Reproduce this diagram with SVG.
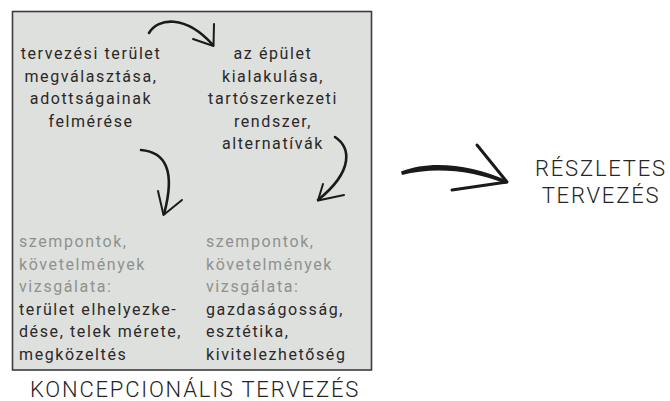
<svg xmlns="http://www.w3.org/2000/svg" width="670" height="401" viewBox="0 0 670 401">
<style>
.t{font-family:Roboto,"Liberation Sans",sans-serif;font-size:16px;letter-spacing:1.6px;fill:#2a2828}
.c{text-anchor:middle}
.g{fill:#8f918f}
.big{font-family:Roboto,"Liberation Sans",sans-serif;font-size:22px;font-weight:300;letter-spacing:1.8px;fill:#262424;text-anchor:middle}
.ar{fill:none;stroke:#1a1a1a;stroke-linecap:round;stroke-linejoin:round}
</style>
<rect id="frame" x="12.5" y="11.5" width="359" height="358.5" fill="#dee0dd" stroke="#3c3c3c" stroke-width="1.6"/>
<g id="node-terulet">
<text class="t c" x="91" y="59">tervezési terület</text>
<text class="t c" x="91" y="81.5">megválasztása,</text>
<text class="t c" x="91" y="104">adottságainak</text>
<text class="t c" x="91" y="126.5">felmérése</text>
</g>
<g id="node-epulet">
<text class="t c" x="273" y="59">az épület</text>
<text class="t c" x="273" y="81.5">kialakulása,</text>
<text class="t c" x="273" y="104">tartószerkezeti</text>
<text class="t c" x="273" y="126.5">rendszer,</text>
<text class="t c" x="273" y="149">alternatívák</text>
</g>
<g id="node-szempont1">
<text class="t g" x="19" y="247">szempontok,</text>
<text class="t g" x="19" y="269.5">követelmények</text>
<text class="t g" x="19" y="292">vizsgálata:</text>
<text class="t" x="19" y="314.5">terület elhelyezke-</text>
<text class="t" x="19" y="337">dése, telek mérete,</text>
<text class="t" x="19" y="359.5">megközeltés</text>
</g>
<g id="node-szempont2">
<text class="t g" x="206" y="247">szempontok,</text>
<text class="t g" x="206" y="269.5">követelmények</text>
<text class="t g" x="206" y="292">vizsgálata:</text>
<text class="t" x="206" y="314.5">gazdaságosság,</text>
<text class="t" x="206" y="337">esztétika,</text>
<text class="t" x="206" y="359.5">kivitelezhetőség</text>
</g>
<g id="label-koncepcionalis">
<text class="big" x="195" y="397">KONCEPCIONÁLIS TERVEZÉS</text>
</g>
<g id="node-reszletes">
<text class="big" x="601" y="176">RÉSZLETES</text>
<text class="big" x="601" y="202.5">TERVEZÉS</text>
</g>
<g id="connectors">
<path class="ar" stroke-width="2.6" d="M149 33 C158 18 185 14 213 45"/>
<path class="ar" stroke-width="2" d="M214 24 L213.5 46 L193 39"/>
<path class="ar" stroke-width="2.6" d="M141 150 C165 152 176 170 164 214"/>
<path class="ar" stroke-width="2" d="M158 191 L163.5 215 L182 200"/>
<path class="ar" stroke-width="2.6" d="M335 137 C350 147 355 170 318 200"/>
<path class="ar" stroke-width="2" d="M323 184 L318 200.5 L344 195"/>
<path fill="#1a1a1a" d="M401 171.5 C430 160 470 164 508 181 L506 184 C470 169 432 167 402 175 Z"/>
<path class="ar" stroke-width="3" d="M477 145 L507 182 L452 190"/>
</g>
</svg>
